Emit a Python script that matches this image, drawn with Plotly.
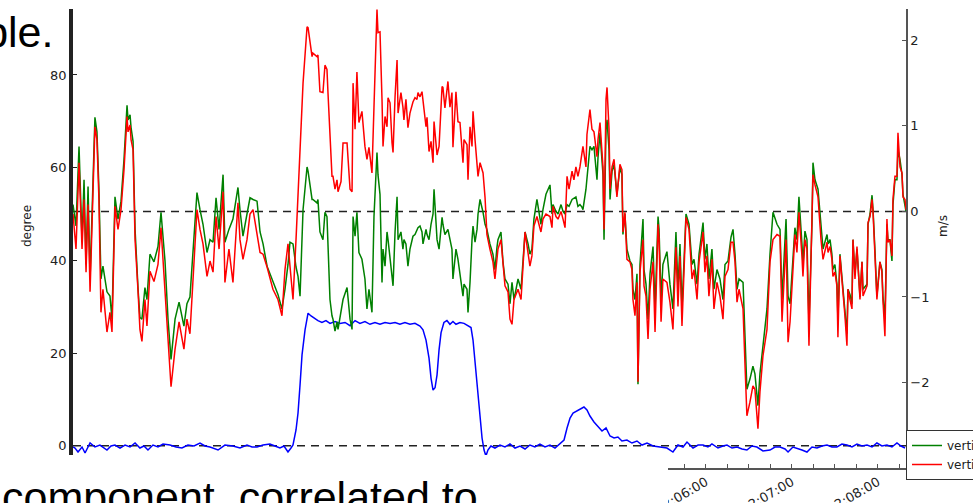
import datetime as dt
import plotly.graph_objects as go

T0 = dt.datetime(2014, 5, 20, 1, 58, 38, 400000)

# time offsets (s) shared by the two vertical-velocity series
t_vv = [
    0.0, 2.1, 4.2, 6.3, 7.7, 9.1, 10.5, 11.9, 15.3, 16.7,
    18.1, 19.5, 20.9, 23.7, 25.8, 27.2, 29.3, 31.4, 33.5, 35.6,
    37.7, 38.4, 39.8, 40.5, 41.9, 43.3, 45.4, 46.7, 48.1, 50.2,
    51.6, 53.7, 56.5, 59.3, 61.4, 64.2, 66.3, 68.4, 71.2, 74.0,
    77.4, 79.5, 81.6, 84.4, 86.5, 88.6, 90.7, 93.5, 95.6, 97.7,
    99.8, 101.9, 104.7, 106.0, 108.8, 111.6, 115.1, 116.5, 118.6, 121.4,
    123.5, 125.6, 128.4, 130.5, 132.6, 135.4, 139.5, 143.0, 145.8, 147.9,
    150.0, 151.4, 153.5, 155.6, 157.0, 158.4, 160.5, 163.3, 164.0, 166.8,
    167.4, 170.2, 170.9, 172.3, 174.4, 175.8, 177.2, 177.9, 179.3, 180.7,
    181.4, 182.8, 184.2, 184.9, 187.0, 188.4, 191.2, 193.3, 194.7, 195.4,
    196.8, 198.1, 199.5, 201.6, 203.7, 205.1, 206.5, 208.6, 210.0, 212.1,
    212.8, 214.2, 215.6, 216.3, 217.7, 219.1, 219.8, 221.2, 222.6, 223.3,
    224.7, 226.1, 226.8, 228.8, 230.2, 230.9, 232.3, 233.7, 235.1, 237.2,
    238.6, 240.0, 240.7, 242.1, 243.5, 244.2, 246.3, 247.0, 248.4, 249.8,
    251.2, 251.9, 254.0, 255.4, 257.5, 258.1, 259.5, 261.6, 263.0, 264.4,
    265.1, 267.2, 268.6, 270.0, 272.1, 272.8, 274.9, 275.6, 277.0, 278.4,
    279.1, 280.5, 281.9, 282.6, 284.0, 286.1, 287.5, 288.8, 290.9, 293.0,
    294.4, 295.8, 296.5, 298.6, 300.0, 301.4, 303.5, 304.9, 306.3, 307.7,
    310.5, 312.6, 315.4, 317.5, 318.8, 320.2, 321.6, 323.7, 326.5, 327.9,
    330.0, 332.8, 334.2, 334.9, 337.0, 338.4, 340.5, 341.9, 343.3, 344.7,
    346.1, 348.2, 349.5, 350.9, 352.3, 353.7, 355.1, 355.8, 357.9, 358.6,
    360.7, 362.1, 363.5, 365.6, 366.3, 367.7, 369.8, 370.5, 371.9, 372.6,
    374.0, 374.7, 376.1, 377.5, 379.5, 381.6, 383.0, 383.7, 385.1, 386.5,
    388.6, 390.0, 390.7, 392.1, 393.5, 394.2, 395.6, 397.7, 398.4, 399.8,
    401.2, 402.6, 404.7, 406.1, 408.2, 408.9, 410.3, 411.6, 414.4, 416.5,
    418.6, 420.7, 422.1, 423.5, 424.9, 427.7, 429.8, 431.9, 433.3, 435.4,
    436.8, 439.6, 440.9, 442.3, 443.7, 445.8, 447.2, 449.3, 451.4, 453.5,
    454.9, 457.0, 459.1, 460.5, 461.9, 463.3, 464.7, 467.5, 468.8, 470.2,
    472.3, 474.4, 475.8, 477.9, 479.3, 481.4, 484.2, 486.3, 488.4, 491.2,
    493.3, 494.7, 497.5, 498.9, 500.3, 502.3, 503.7, 505.1, 506.5, 508.6,
    509.3, 510.7, 512.1, 513.5, 515.6, 516.3, 517.7, 519.8, 521.9, 523.3,
    526.1, 526.8, 528.2, 529.5, 530.2, 531.6, 533.0, 533.7, 535.1, 536.5,
    538.6, 540.0, 540.7, 542.1, 543.5, 544.2, 545.6, 547.0, 549.1, 550.5,
    551.2, 554.0, 554.7, 556.1, 557.5, 558.2, 559.5, 560.9, 563.0, 564.4,
    565.1, 566.5, 567.9, 568.6, 570.0, 571.4, 572.1, 573.5, 574.9, 575.6,
    577.0, 578.4, 579.1, 580.5, 581.2,
]

# vertical velocity, red series (m/s)
v_red = [
    -0.03, -0.44, 0.57, -0.44, 0.14, -0.71, 0.08, -0.94, 0.99, 0.84,
    0.14, -1.18, -0.91, -1.41, -1.18, -1.41, 0.06, -0.21, 0.02, 0.49,
    1.11, 0.93, 1.01, 0.84, 0.72, -0.33, -0.94, -1.38, -1.52, -1.03,
    -1.34, -0.70, -0.82, -0.62, -0.19, -0.89, -1.49, -2.05, -1.61, -1.29,
    -1.61, -1.26, -1.43, -0.56, 0.02, -0.21, -0.38, -0.76, -0.58, -0.71,
    -0.06, -0.44, 0.23, -0.83, -0.44, -0.83, 0.10, -0.33, -0.56, -0.33,
    -0.03, 0.02, -0.29, -0.48, -0.50, -0.65, -0.91, -1.03, -1.22, -0.68,
    -0.38, -0.62, -1.03, -0.33, 0.17, 0.61, 1.50, 2.16, 2.15, 1.81,
    1.85, 1.81, 1.83, 1.40, 1.39, 1.71, 1.66, 1.39, 0.92, 0.41,
    0.41, 0.26, 0.37, 0.23, 0.35, 0.80, 0.80, 0.26, 0.23, 1.50,
    0.96, 1.63, 1.04, 1.17, 0.76, 0.61, 0.75, 0.45, 1.22, 2.36,
    2.09, 2.10, 1.31, 0.76, 1.11, 0.99, 1.33, 1.27, 0.80, 0.69,
    1.34, 1.77, 1.15, 1.39, 1.22, 1.07, 1.31, 0.98, 1.15, 1.28,
    1.33, 1.31, 1.39, 1.34, 1.40, 1.31, 0.99, 1.10, 0.70, 0.82,
    0.57, 1.05, 0.66, 0.76, 1.46, 1.45, 1.21, 1.52, 1.22, 1.39,
    0.75, 1.40, 1.05, 1.04, 0.57, 0.84, 0.78, 0.37, 0.99, 0.76,
    1.17, 0.84, 0.57, 0.41, 0.57, 0.45, 0.16, -0.27, -0.44, -0.59,
    -0.79, -0.48, -0.44, -0.33, -0.59, -0.87, -0.94, -1.26, -1.32, -1.03,
    -0.91, -1.03, -0.24, -0.47, -0.64, -0.52, -0.17, -0.06, -0.24, -0.09,
    -0.03, -0.06, -0.19, 0.06, -0.06, -0.09, 0.00, -0.09, -0.19, 0.41,
    0.26, 0.47, 0.37, 0.52, 0.41, 0.52, 0.69, 0.76, 0.52, 0.90,
    1.19, 0.96, 0.93, 0.64, 0.84, 1.04, 0.52, -0.21, 1.31, 1.45,
    0.96, 0.26, 0.52, 0.61, 0.17, 0.55, 0.49, -0.24, -0.01, -0.56,
    -0.59, -0.68, -1.03, -1.22, -0.83, -1.99, -0.71, -0.33, -0.87, -0.99,
    -1.49, -0.91, -0.59, -1.41, -0.15, -0.33, -1.29, -0.79, -0.83, -1.06,
    -1.38, -0.42, -1.11, -0.52, -1.34, -0.07, -0.21, -0.79, -0.68, -1.03,
    -0.59, -0.24, -0.71, -0.52, -0.99, -0.56, -1.14, -0.83, -0.99, -1.26,
    -0.76, -0.68, -0.36, -0.36, -0.59, -1.06, -0.91, -1.14, -1.76, -2.39,
    -2.23, -2.04, -2.08, -2.54, -2.11, -1.69, -1.38, -0.59, -0.33, -0.27,
    -0.29, -1.29, -0.33, -1.53, -1.29, -0.68, -0.27, -0.48, -0.01, -0.52,
    -0.76, -0.33, -0.44, -1.57, -0.29, 0.43, 0.31, 0.17, -0.33, -0.56,
    -0.36, -0.48, -0.41, -0.56, -0.76, -0.71, -0.87, -1.47, -0.52, -0.79,
    -1.22, -1.57, -0.91, -1.03, -1.14, -0.33, -0.79, -0.41, -1.03, -0.59,
    -0.99, -0.87, -0.13, -0.06, 0.14, -0.01, -0.48, -1.03, -0.59, -0.71,
    -1.03, -1.46, -0.09, -0.36, -0.33, -0.52, 0.14, 0.41, 0.41, 0.92,
    0.52, 0.45, 0.17, 0.14, 0.02,
]

# vertical velocity, green series (m/s)
v_green = [
    0.08, -0.17, 0.76, -0.33, 0.37, -0.62, 0.29, -0.79, 1.10, 0.93,
    0.26, -0.79, -0.64, -0.94, -0.99, -1.26, 0.17, -0.09, 0.12, 0.61,
    1.24, 1.07, 1.13, 0.98, 0.82, -0.21, -0.91, -1.24, -1.26, -0.89,
    -1.03, -0.50, -0.59, -0.41, -0.01, -0.58, -1.26, -1.73, -1.26, -1.06,
    -1.34, -1.08, -1.00, -0.33, 0.22, 0.02, -0.15, -0.48, -0.33, -0.36,
    0.16, -0.21, 0.43, -0.36, -0.21, -0.09, 0.28, 0.02, -0.29, -0.03,
    0.16, 0.14, 0.12, -0.24, -0.38, -0.64, -0.83, -0.97, -1.14, -0.91,
    -0.62, -0.36, -0.38, -0.65, -0.76, -0.99, 0.02, 0.52, 0.47, 0.14,
    0.14, 0.10, 0.14, -0.24, -0.33, -0.01, -0.06, -0.36, -1.03, -1.22,
    -1.26, -1.40, -1.29, -1.38, -1.14, -1.03, -0.89, -1.26, -1.38, -0.06,
    -0.29, -0.01, -0.48, -0.56, -0.79, -1.14, -0.91, -1.18, -0.06, 0.69,
    0.43, 0.20, -0.83, -0.44, -0.64, -0.24, -0.33, -0.56, -0.83, -0.87,
    -0.24, 0.17, -0.33, -0.24, -0.44, -0.33, -0.38, -0.64, -0.44, -0.29,
    -0.27, -0.21, -0.19, -0.17, -0.24, -0.38, -0.21, -0.27, -0.33, -0.15,
    -0.03, 0.26, -0.33, -0.44, -0.07, -0.15, -0.27, -0.21, -0.33, -0.44,
    -0.79, -0.44, -0.56, -0.76, -0.99, -0.85, -0.91, -1.18, -0.83, -0.33,
    -0.17, -0.36, -0.21, -0.03, 0.14, -0.01, -0.15, -0.21, -0.38, -0.50,
    -0.68, -0.42, -0.33, -0.24, -0.59, -0.79, -0.85, -1.08, -0.83, -1.03,
    -0.79, -0.91, -0.24, -0.38, -0.50, -0.44, -0.09, 0.14, -0.15, 0.02,
    0.20, 0.31, -0.03, 0.08, 0.00, -0.03, 0.08, 0.00, -0.03, 0.08,
    0.06, 0.14, 0.16, 0.17, 0.06, 0.08, 0.05, 0.02, 0.26, 0.41,
    0.76, 0.72, 0.76, 0.37, 0.63, 0.92, 0.43, -0.33, 0.96, 1.07,
    0.72, 0.14, 0.47, 0.55, 0.20, 0.51, 0.43, -0.27, -0.03, -0.44,
    -0.58, -0.62, -0.91, -1.03, -0.73, -2.02, -0.62, -0.09, -0.68, -0.85,
    -1.26, -0.73, -0.41, -1.14, -0.06, -0.21, -1.03, -0.62, -0.47, -0.85,
    -1.14, -0.24, -0.91, -0.38, -1.14, -0.03, -0.15, -0.62, -0.56, -0.85,
    -0.50, -0.13, -0.56, -0.38, -0.79, -0.44, -0.91, -0.68, -0.79, -1.03,
    -0.62, -0.58, -0.30, -0.21, -0.50, -0.91, -0.79, -0.83, -1.43, -2.08,
    -1.96, -1.81, -1.90, -2.27, -1.90, -1.55, -1.14, -0.50, -0.01, -0.15,
    -0.21, -1.03, -0.09, -0.99, -1.08, -0.56, -0.19, -0.33, 0.17, -0.38,
    -0.62, -0.23, -0.33, -1.31, -0.15, 0.57, 0.37, 0.26, -0.21, -0.44,
    -0.27, -0.38, -0.33, -0.50, -0.68, -0.62, -0.85, -1.26, -0.50, -0.77,
    -1.08, -1.43, -0.91, -0.97, -1.08, -0.33, -0.73, -0.44, -1.00, -0.59,
    -0.91, -0.85, -0.15, -0.03, 0.19, 0.02, -0.44, -0.99, -0.59, -0.68,
    -0.99, -1.26, -0.15, -0.33, -0.33, -0.58, 0.08, 0.37, 0.37, 0.72,
    0.61, 0.43, 0.20, 0.08, 0.00,
]

# time offsets (s) and values of the blue angle series (degree)
t_blue = [
    0.0, 1.4, 3.5, 6.3, 8.4, 10.5, 11.9, 15.3, 18.8, 23.7,
    26.5, 29.3, 32.8, 36.3, 39.8, 43.3, 46.7, 49.5, 52.3, 55.8,
    59.3, 62.8, 67.7, 71.9, 76.0, 80.2, 84.4, 88.6, 92.1, 95.6,
    101.2, 106.0, 111.6, 116.5, 121.4, 124.9, 128.4, 132.6, 137.4, 140.9,
    144.4, 147.2, 150.0, 152.1, 153.5, 155.6, 157.0, 158.4, 159.8, 161.9,
    164.0, 166.1, 168.1, 170.9, 173.7, 176.5, 179.3, 182.8, 186.3, 189.8,
    193.3, 196.8, 200.2, 203.7, 207.2, 210.7, 214.2, 217.7, 221.2, 224.7,
    228.1, 231.6, 235.1, 238.6, 242.1, 244.2, 246.3, 248.4, 249.8, 251.2,
    252.6, 254.0, 255.4, 256.8, 258.8, 260.9, 263.0, 265.1, 267.2, 270.0,
    272.8, 275.6, 277.7, 279.1, 281.2, 283.3, 285.4, 286.8, 288.1, 289.5,
    291.6, 294.4, 297.9, 301.4, 304.9, 308.4, 311.9, 315.4, 318.8, 322.3,
    325.8, 329.3, 332.8, 336.3, 339.8, 342.6, 344.7, 346.8, 348.9, 351.6,
    353.7, 356.5, 358.6, 360.7, 363.5, 366.3, 369.1, 371.9, 374.7, 377.5,
    380.2, 383.0, 386.5, 390.0, 393.5, 397.0, 400.5, 404.7, 409.5, 414.4,
    418.6, 422.1, 425.6, 428.4, 432.6, 436.1, 439.6, 443.0, 445.8, 450.0,
    453.5, 456.3, 459.8, 463.3, 466.8, 470.2, 473.7, 477.2, 481.4, 486.3,
    489.8, 493.3, 496.8, 498.9, 502.3, 505.1, 508.6, 512.1, 515.6, 519.1,
    522.6, 526.1, 529.5, 533.0, 536.5, 540.0, 543.5, 547.0, 550.5, 554.0,
    557.5, 560.9, 564.4, 567.9, 571.4, 574.9, 577.7, 580.5,
]
blue_deg = [
    -0.28, -0.50, -1.36, -0.28, -1.58, -0.06, 0.58, -0.28, 0.15, -0.93,
    -0.06, 0.15, -0.50, 0.15, -0.28, 0.58, -0.50, -0.06, -0.93, 0.15,
    -0.28, 0.37, 0.15, -0.28, -0.50, 0.15, -0.06, 0.58, -0.06, -0.28,
    -0.93, 0.15, -0.06, -0.50, 0.15, -0.28, -0.28, 0.15, 0.37, -0.06,
    -0.50, -0.06, -1.36, -0.50, 0.15, 3.39, 7.06, 13.1, 19.6, 25.0,
    28.6, 28.0, 27.5, 27.0, 26.6, 27.0, 26.4, 26.8, 26.4, 26.6,
    25.9, 27.0, 26.4, 26.8, 26.2, 26.6, 26.2, 26.6, 26.4, 26.6,
    26.2, 26.6, 26.2, 26.4, 25.8, 25.0, 22.8, 18.9, 14.6, 12.0,
    12.5, 15.3, 20.7, 24.4, 26.6, 27.0, 26.2, 26.8, 26.2, 26.6,
    26.4, 25.9, 25.5, 22.8, 15.3, 7.70, 1.66, -0.93, -2.22, -0.93,
    -0.06, -0.50, 0.15, -0.28, 0.37, -0.50, -0.06, -0.71, 0.15, -0.28,
    0.37, -0.28, 0.15, -0.50, 0.37, 1.23, 3.82, 5.98, 7.06, 7.49,
    7.92, 8.35, 7.70, 6.41, 5.11, 4.04, 3.17, 3.82, 2.09, 1.66,
    1.88, 1.01, 1.23, 0.58, 1.01, 0.15, 0.58, -0.06, -0.28, -0.50,
    -1.36, 0.15, -0.28, 0.80, -0.50, 0.15, 0.15, -0.28, 0.37, -0.50,
    -0.06, 0.15, -0.50, -0.28, -0.71, -0.93, -0.06, -0.28, -1.14, -0.93,
    -0.28, -0.28, -0.71, -1.36, -0.28, -0.50, -0.93, -1.36, -0.28, -0.50,
    -0.06, 0.15, -0.28, -0.28, 0.37, 0.15, -0.28, 0.37, -0.06, 0.15,
    -0.28, 0.58, -0.06, 0.15, -0.28, 0.58, -0.06, -0.50,
]

deg_ticks = [0, 20, 40, 60, 80]
ms_ticks = [-3, -2, -1, 0, 1, 2]
ms_labels = ["\u22123", "\u22122", "\u22121", "0", "1", "2"]
legend_names = ["vertical velocity (GPS)", "vertical velocity (IMU)"]

x_vv = [T0 + dt.timedelta(seconds=s) for s in t_vv]
x_blue = [T0 + dt.timedelta(seconds=s) for s in t_blue]

TICKFONT = dict(family="DejaVu Sans", size=13, color="#222222")

fig = go.Figure()
fig.add_trace(go.Scatter(x=x_blue, y=blue_deg, mode="lines", yaxis="y",
                         line=dict(color="#0000ff", width=1.5), showlegend=False))
fig.add_trace(go.Scatter(x=x_vv, y=v_green, mode="lines", yaxis="y2", name=legend_names[0],
                         line=dict(color="#008000", width=1.5)))
fig.add_trace(go.Scatter(x=x_vv, y=v_red, mode="lines", yaxis="y2", name=legend_names[1],
                         line=dict(color="#ff0000", width=1.5)))

def px_x(p):
    return (p - 73) / 833.0

def px_y(p):
    return (468 - p) / 459.0

fig.update_layout(
    width=973, height=503,
    margin=dict(l=73, r=67, t=9, b=35, autoexpand=False),
    paper_bgcolor="white", plot_bgcolor="white",
    xaxis=dict(
        type="date",
        range=[T0, T0 + dt.timedelta(seconds=581.2)],
        showline=True, linecolor="#555555", linewidth=1.5,
        ticks="inside", ticklen=4, tickcolor="#555555",
        tick0="2014-05-20 02:00:00", dtick=60000, tickformat="%H:%M:%S",
        tickangle=-30, tickfont=TICKFONT,
        minor=dict(dtick=15000, ticks="inside", ticklen=4, tickcolor="#555555", showgrid=False),
        showgrid=False, zeroline=False,
    ),
    yaxis=dict(
        range=[-4.81, 94.24], tickvals=deg_ticks,
        showline=True, linecolor="#222222", linewidth=3.5,
        ticks="inside", ticklen=4, tickcolor="#222222",
        tickfont=TICKFONT, showgrid=False, zeroline=False,
    ),
    yaxis2=dict(
        overlaying="y", side="right",
        range=[-3.0, 2.367], tickvals=ms_ticks, ticktext=ms_labels,
        showline=True, linecolor="#555555", linewidth=1.5,
        ticks="inside", ticklen=4, tickcolor="#555555",
        tickfont=TICKFONT, showgrid=False, zeroline=False,
    ),
    legend=dict(
        x=1.0, xanchor="left", y=px_y(430), yanchor="top",
        bgcolor="white", bordercolor="#333333", borderwidth=1,
        font=dict(family="DejaVu Sans", size=12, color="#222222"),
        tracegroupgap=0,
    ),
    shapes=[
        dict(type="line", xref="paper", x0=0, x1=1, yref="y", y0=0, y1=0,
             line=dict(color="#222222", width=1.5, dash="8px,6px"), layer="below"),
        dict(type="line", xref="paper", x0=0, x1=1, yref="y2", y0=0, y1=0,
             line=dict(color="#222222", width=1.5, dash="8px,6px"), layer="below"),
        dict(type="rect", xref="paper", yref="paper",
             x0=-0.1, x1=px_x(668), y0=-0.1, y1=px_y(455),
             fillcolor="white", line=dict(width=0), layer="above"),
    ],
    annotations=[
        dict(text="degree", xref="paper", yref="paper", x=px_x(27), y=px_y(226),
             textangle=-90, showarrow=False, xanchor="center", yanchor="middle",
             font=dict(family="DejaVu Sans", size=12, color="#222222")),
        dict(text="m/s", xref="paper", yref="paper", x=px_x(943), y=px_y(226),
             textangle=-90, showarrow=False, xanchor="center", yanchor="middle",
             font=dict(family="DejaVu Sans", size=12, color="#222222")),
        dict(text="example.", xref="paper", yref="paper", x=px_x(55), y=px_y(32),
             showarrow=False, xanchor="right", yanchor="middle",
             font=dict(family="Liberation Sans", size=43, color="black")),
        dict(text="component, correlated to", xref="paper", yref="paper", x=px_x(0), y=px_y(497),
             showarrow=False, xanchor="left", yanchor="middle",
             font=dict(family="Liberation Sans", size=43, color="black")),
    ],
)

fig.write_html("out.html", config={"displayModeBar": False},
               post_script="document.body.style.margin='0px';")
